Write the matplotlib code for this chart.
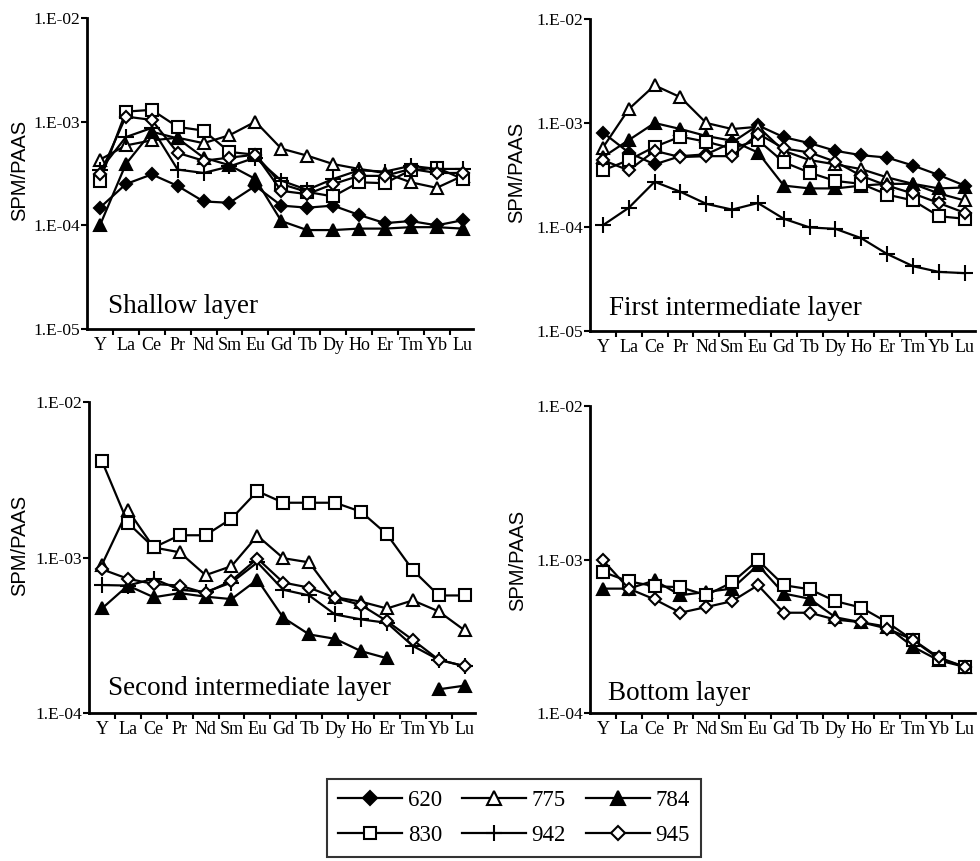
import numpy as np
import matplotlib
matplotlib.use("Agg")
import matplotlib.pyplot as plt
from matplotlib.lines import Line2D

plt.rcParams['font.family'] = ['Liberation Serif', 'DejaVu Serif']

elements = ["Y", "La", "Ce", "Pr", "Nd", "Sm", "Eu", "Gd", "Tb", "Dy", "Ho", "Er", "Tm", "Yb", "Lu"]
nan = np.nan

# Shallow layer
s620 = [1.48e-4, 2.5e-4, 3.1e-4, 2.4e-4, 1.7e-4, 1.65e-4, 2.4e-4, 1.55e-4, 1.48e-4, 1.55e-4, 1.26e-4, 1.05e-4, 1.1e-4, 1.0e-4, 1.12e-4]
s775 = [4.3e-4, 5.9e-4, 6.6e-4, 7.0e-4, 6.2e-4, 7.4e-4, 1.0e-3, 5.5e-4, 4.7e-4, 3.9e-4, 3.5e-4, 3.2e-4, 2.6e-4, 2.3e-4, 3.0e-4]
s784 = [1.0e-4, 3.9e-4, 8.0e-4, 6.9e-4, 4.5e-4, 3.8e-4, 2.8e-4, 1.1e-4, 9.0e-5, 9.0e-5, 9.3e-5, 9.3e-5, 9.6e-5, 9.6e-5, 9.3e-5]
s830 = [2.7e-4, 1.25e-3, 1.3e-3, 8.9e-4, 8.2e-4, 5.1e-4, 4.8e-4, 2.5e-4, 2.1e-4, 1.9e-4, 2.6e-4, 2.55e-4, 3.4e-4, 3.6e-4, 2.8e-4]
s942 = [3.4e-4, 7.1e-4, 8.7e-4, 3.45e-4, 3.2e-4, 3.7e-4, 4.5e-4, 2.7e-4, 2.2e-4, 2.8e-4, 3.4e-4, 3.3e-4, 3.75e-4, 3.5e-4, 3.5e-4]
s945 = [3.1e-4, 1.12e-3, 1.04e-3, 5.0e-4, 4.2e-4, 4.5e-4, 4.8e-4, 2.15e-4, 2.0e-4, 2.5e-4, 3.0e-4, 3.0e-4, 3.5e-4, 3.2e-4, 3.2e-4]

# First intermediate layer
f620 = [8.1e-4, 5.2e-4, 4.0e-4, 4.8e-4, 5.0e-4, 6.5e-4, 9.5e-4, 7.3e-4, 6.4e-4, 5.4e-4, 4.9e-4, 4.65e-4, 3.9e-4, 3.16e-4, 2.5e-4]
f775 = [5.8e-4, 1.36e-3, 2.3e-3, 1.77e-3, 1.0e-3, 8.75e-4, 9.2e-4, 5.4e-4, 4.4e-4, 4.0e-4, 3.6e-4, 3.0e-4, 2.6e-4, 2.1e-4, 1.8e-4]
f784 = [4.7e-4, 6.85e-4, 1.0e-3, 8.75e-4, 7.5e-4, 6.75e-4, 5.2e-4, 2.5e-4, 2.35e-4, 2.35e-4, 2.5e-4, 2.6e-4, 2.6e-4, 2.35e-4, 2.4e-4]
f830 = [3.5e-4, 4.4e-4, 5.9e-4, 7.4e-4, 6.6e-4, 5.7e-4, 6.85e-4, 4.2e-4, 3.33e-4, 2.77e-4, 2.6e-4, 2.05e-4, 1.8e-4, 1.27e-4, 1.2e-4]
f942 = [1.04e-4, 1.53e-4, 2.72e-4, 2.18e-4, 1.67e-4, 1.47e-4, 1.7e-4, 1.2e-4, 9.9e-5, 9.6e-5, 7.8e-5, 5.5e-5, 4.2e-5, 3.7e-5, 3.6e-5]
f945 = [4.4e-4, 3.5e-4, 5.4e-4, 4.7e-4, 4.8e-4, 4.8e-4, 7.9e-4, 5.7e-4, 5.2e-4, 4.25e-4, 3.1e-4, 2.5e-4, 2.1e-4, 1.7e-4, 1.37e-4]

# Second intermediate layer
m775 = [9.0e-4, 2.02e-3, 1.16e-3, 1.08e-3, 7.7e-4, 8.8e-4, 1.38e-3, 9.9e-4, 9.3e-4, 5.55e-4, 5.2e-4, 4.7e-4, 5.3e-4, 4.5e-4, 3.4e-4]
m784 = [4.7e-4, 6.6e-4, 5.55e-4, 5.9e-4, 5.6e-4, 5.4e-4, 7.2e-4, 4.1e-4, 3.2e-4, 3.0e-4, 2.5e-4, 2.25e-4, nan, 1.42e-4, 1.5e-4]
m830 = [4.17e-3, 1.67e-3, 1.16e-3, 1.39e-3, 1.39e-3, 1.78e-3, 2.67e-3, 2.25e-3, 2.25e-3, 2.25e-3, 1.97e-3, 1.41e-3, 8.3e-4, 5.7e-4, 5.7e-4]
m942 = [6.65e-4, 6.6e-4, 7.3e-4, 6.2e-4, 6.0e-4, 6.9e-4, 9.3e-4, 6.2e-4, 5.7e-4, 4.3e-4, 4.0e-4, 3.8e-4, 2.7e-4, 2.2e-4, 2.0e-4]
m945 = [8.4e-4, 7.3e-4, 6.75e-4, 6.6e-4, 5.9e-4, 7.1e-4, 9.85e-4, 6.9e-4, 6.4e-4, 5.5e-4, 4.95e-4, 3.9e-4, 2.95e-4, 2.2e-4, 2.0e-4]

# Bottom layer
b784 = [6.46e-4, 6.46e-4, 7.3e-4, 5.85e-4, 6.15e-4, 6.46e-4, 9.2e-4, 6.0e-4, 5.55e-4, 4.2e-4, 3.9e-4, 3.65e-4, 2.7e-4, 2.2e-4, 2.0e-4]
b830 = [8.3e-4, 7.2e-4, 6.7e-4, 6.6e-4, 5.85e-4, 7.1e-4, 9.9e-4, 6.8e-4, 6.4e-4, 5.35e-4, 4.86e-4, 3.9e-4, 2.98e-4, 2.26e-4, 2.0e-4]
b945 = [9.9e-4, 6.46e-4, 5.5e-4, 4.5e-4, 4.9e-4, 5.35e-4, 6.8e-4, 4.5e-4, 4.5e-4, 4.06e-4, 3.9e-4, 3.55e-4, 3.0e-4, 2.3e-4, 2.0e-4]

styles = {
    "620": dict(marker="D", ms=6.5, mfc="black"),
    "775": dict(marker="^", ms=9, mfc="white"),
    "784": dict(marker="^", ms=9, mfc="black"),
    "830": dict(marker="s", ms=8, mfc="white"),
    "942": dict(marker="+", ms=11),
    "945": dict(marker="D", ms=6.5, mfc="white"),
}

W, H = 980, 861
fig = plt.figure(figsize=(W / 100, H / 100), dpi=100)


def px_axes(left, right, top, bottom):
    return fig.add_axes([left / W, 1 - bottom / H, (right - left) / W, (bottom - top) / H])


def draw_panel(ax, series, ymin, title, tx, ty):
    x = np.arange(len(elements))
    for name, vals in series:
        st = styles[name]
        ax.plot(x, vals, color="black", lw=1.6, marker=st["marker"], ms=st["ms"],
                mfc=st.get("mfc", "black"), mec="black", mew=1.5, zorder=3)
    ax.set_yscale("log")
    ax.set_ylim(ymin, 1e-2)
    ax.set_xlim(-0.5, 14.4)
    exps = range(int(np.log10(ymin)), -1)
    ax.set_yticks([10.0 ** k for k in exps])
    ax.set_yticklabels(["1.E-%02d" % -k for k in exps], fontsize=12.5)
    ax.yaxis.set_minor_locator(matplotlib.ticker.NullLocator())
    ax.set_xticks(x)
    ax.set_xticklabels(elements, fontsize=13)
    ax.set_xticks(np.arange(0.5, 14, 1), minor=True)
    ax.tick_params(axis="x", which="major", length=0, pad=6)
    ax.tick_params(axis="x", which="minor", length=4, width=1.5, direction="out")
    ax.tick_params(axis="y", which="major", length=4, width=1.5, direction="out", pad=1)
    for s in ["top", "right"]:
        ax.spines[s].set_visible(False)
    for s in ["left", "bottom"]:
        ax.spines[s].set_linewidth(2)
    ax.text(tx, ty, title, transform=ax.transAxes, fontsize=19.5, ha="left", va="baseline")


ax1 = px_axes(87, 473, 18, 329)
draw_panel(ax1, [("620", s620), ("775", s775), ("784", s784), ("830", s830), ("942", s942), ("945", s945)],
           1e-5, "Shallow layer", 0.055, 0.05)
ax2 = px_axes(590, 975, 19, 331)
draw_panel(ax2, [("620", f620), ("775", f775), ("784", f784), ("830", f830), ("942", f942), ("945", f945)],
           1e-5, "First intermediate layer", 0.05, 0.05)
ax3 = px_axes(89, 475, 402, 713)
draw_panel(ax3, [("775", m775), ("784", m784), ("830", m830), ("942", m942), ("945", m945)],
           1e-4, "Second intermediate layer", 0.05, 0.058)
ax4 = px_axes(590, 975, 406, 713)
draw_panel(ax4, [("784", b784), ("830", b830), ("945", b945)],
           1e-4, "Bottom layer", 0.048, 0.043)

for xp, yp in [(20, 170), (517, 172), (20, 545), (518, 560)]:
    fig.text(xp / W, 1 - yp / H, "SPM/PAAS", rotation=90, ha="center", va="center",
             fontsize=14.5, family=["Liberation Sans", "DejaVu Sans"])

order = ["620", "830", "775", "942", "784", "945"]
handles = []
for name in order:
    st = styles[name]
    handles.append(Line2D([], [], color="black", lw=1.6, marker=st["marker"], ms=st["ms"] + 1,
                          mfc=st.get("mfc", "black"), mec="black", mew=1.5))
leg = fig.legend(handles, order, ncol=3, loc="center", bbox_to_anchor=(514 / W, 1 - 818 / H),
                 fontsize=16.5, frameon=True, fancybox=False, edgecolor="black",
                 handlelength=2.8, handletextpad=0.25, columnspacing=0.85, labelspacing=0.6,
                 borderpad=0.5, borderaxespad=0)
leg.get_frame().set_linewidth(1.5)

fig.savefig("out.png", dpi=100)
